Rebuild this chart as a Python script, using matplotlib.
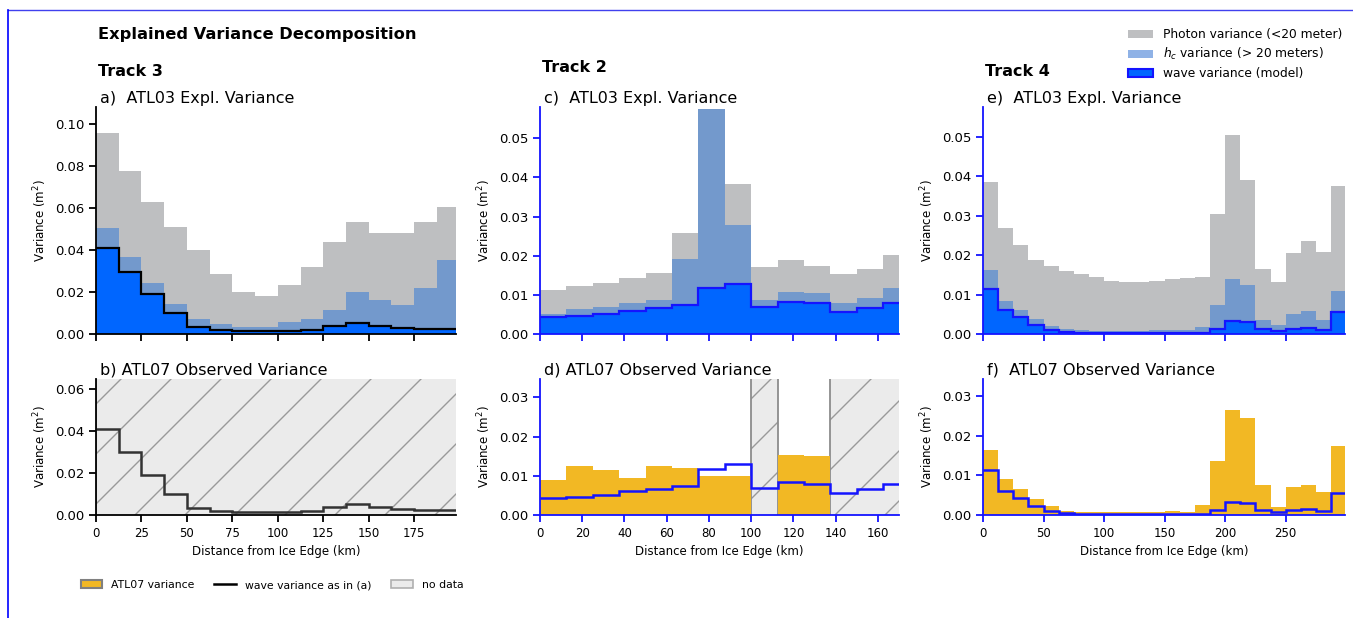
import numpy as np
import matplotlib
matplotlib.use("Agg")
import matplotlib.pyplot as plt
from matplotlib import backend_bases
from matplotlib.patches import Patch
from matplotlib.lines import Line2D

# sparser hatching, like the reference
_hatch_path = backend_bases.GraphicsContextBase.get_hatch_path
backend_bases.GraphicsContextBase.get_hatch_path = lambda self, density=4.5: _hatch_path(self, density)

bin_km = 12.5
nan = np.nan

# Track 3
photon_t3 = [0.0957, 0.0777, 0.0629, 0.0510, 0.0401, 0.0288, 0.0201, 0.0180,
             0.0232, 0.0320, 0.0441, 0.0532, 0.0484, 0.0481, 0.0532, 0.0608]
hc_t3 = [0.0508, 0.0368, 0.0242, 0.0145, 0.0073, 0.0046, 0.0032, 0.0032,
         0.0059, 0.0072, 0.0115, 0.0202, 0.0164, 0.0137, 0.0218, 0.0355]
wave_t3 = [0.0411, 0.0298, 0.0191, 0.0099, 0.0032, 0.0018, 0.0014, 0.0014,
           0.0016, 0.0021, 0.0040, 0.0053, 0.0038, 0.0027, 0.0024, 0.0022]
atl07_t3 = [nan] * 16

# Track 2
photon_t2 = [0.0112, 0.0122, 0.0131, 0.0142, 0.0155, 0.0257, 0.0575,
             0.0383, 0.0170, 0.0188, 0.0175, 0.0154, 0.0167, 0.0201]
hc_t2 = [0.0052, 0.0063, 0.0070, 0.0078, 0.0087, 0.0191, 0.0575,
         0.0278, 0.0088, 0.0108, 0.0106, 0.0080, 0.0091, 0.0117]
wave_t2 = [0.0043, 0.0047, 0.0052, 0.0060, 0.0067, 0.0074, 0.0118,
           0.0129, 0.0070, 0.0083, 0.0078, 0.0057, 0.0067, 0.0078]
atl07_t2 = [0.0089, 0.0126, 0.0116, 0.0095, 0.0125, 0.0119, 0.0099,
            0.0099, nan, 0.0152, 0.0150, nan, nan, nan]

# Track 4
photon_t4 = [0.0384, 0.0268, 0.0225, 0.0188, 0.0172, 0.0160, 0.0153, 0.0145,
             0.0135, 0.0132, 0.0132, 0.0134, 0.0140, 0.0142, 0.0144, 0.0303,
             0.0503, 0.0389, 0.0164, 0.0132, 0.0205, 0.0236, 0.0208, 0.0374]
hc_t4 = [0.0161, 0.0084, 0.0061, 0.0037, 0.0019, 0.0012, 0.0010, 0.0008,
         0.0008, 0.0008, 0.0008, 0.0010, 0.0010, 0.0010, 0.0017, 0.0074,
         0.0139, 0.0123, 0.0035, 0.0022, 0.0050, 0.0057, 0.0036, 0.0110]
wave_t4 = [0.0114, 0.0061, 0.0042, 0.0024, 0.0009, 0.0004, 0.0003, 0.0003,
           0.0003, 0.0003, 0.0003, 0.0003, 0.0003, 0.0003, 0.0003, 0.0012,
           0.0034, 0.0031, 0.0013, 0.0007, 0.0012, 0.0014, 0.0011, 0.0056]
atl07_t4 = [0.0164, 0.0092, 0.0065, 0.0041, 0.0022, 0.0011, 0.0008, 0.0008,
            0.0008, 0.0008, 0.0007, 0.0008, 0.0009, 0.0008, 0.0026, 0.0136,
            0.0266, 0.0245, 0.0076, 0.0019, 0.0070, 0.0075, 0.0057, 0.0175]

c_photon = '#bebfc1'
c_hc = '#7399cc'
c_hc_legend = '#8fb2e6'
c_wave = '#0066ff'
c_line = '#1414ff'
c_atl07 = '#f2b824'
c_nodata = '#ebebeb'
c_hatch = '#999999'

plt.rcParams['hatch.linewidth'] = 1.0

fig = plt.figure(figsize=(13.53, 6.18), dpi=100)


def style_axis(ax, color):
    for s in ['top', 'right']:
        ax.spines[s].set_visible(False)
    for s in ['left', 'bottom']:
        ax.spines[s].set_color(color)
        ax.spines[s].set_linewidth(1.3)
    ax.tick_params(axis='both', colors=color, length=5, width=1.3, labelcolor='black')
    ax.tick_params(axis='y', labelsize=9.5)
    ax.tick_params(axis='x', labelsize=8.5)
    ax.set_ylabel('Variance (m$^2$)', fontsize=8.5)


def top_panel(ax, photon, hc, wave, line_c, spine_c, title, xmax, ymax, yticks):
    edges = np.arange(len(wave) + 1) * bin_km
    ax.bar(edges[:-1], photon, width=bin_km, align='edge', color=c_photon, lw=0)
    ax.bar(edges[:-1], hc, width=bin_km, align='edge', color=c_hc, lw=0)
    ax.bar(edges[:-1], wave, width=bin_km, align='edge', color=c_wave, lw=0)
    ax.stairs(wave, edges, baseline=None, color=line_c, lw=1.6)
    ax.set_xlim(0, xmax)
    ax.set_ylim(0, ymax)
    ax.set_yticks(yticks)
    ax.set_xticklabels([])
    style_axis(ax, spine_c)
    ax.set_title(title, loc='left', fontsize=11.5, pad=3, x=0.01)


def bottom_panel(ax, atl07, wave, line_c, spine_c, title, xmax, ymax, yticks, xticks):
    edges = np.arange(len(wave) + 1) * bin_km
    atl07 = np.array(atl07)
    missing = np.isnan(atl07)
    # contiguous runs of missing ATL07 bins
    i = 0
    while i < len(atl07):
        if missing[i]:
            j = i
            while j < len(atl07) and missing[j]:
                j += 1
            ax.axvspan(edges[i], edges[j], facecolor=c_nodata, edgecolor=c_hatch,
                       hatch='/', lw=0, zorder=0)
            for e in (edges[i], edges[j]):
                ax.axvline(e, color='#8c8c8c', lw=1.3, zorder=0.5)
            i = j
        else:
            i += 1
    ax.bar(edges[:-1], np.nan_to_num(atl07), width=bin_km, align='edge',
           color=c_atl07, lw=0, zorder=1)
    ax.stairs(wave, edges, baseline=None, color=line_c, lw=1.8, zorder=2)
    ax.set_xlim(0, xmax)
    ax.set_ylim(0, ymax)
    ax.set_yticks(yticks)
    ax.set_xticks(xticks)
    style_axis(ax, spine_c)
    ax.set_xlabel('Distance from Ice Edge (km)', fontsize=8.5)
    ax.set_title(title, loc='left', fontsize=11.5, pad=3, x=0.01)


W, H = 1353, 618
top_y, top_h = 1 - 334 / H, (334 - 107) / H
bot_y, bot_h = 1 - 515 / H, (515 - 379) / H
cols = [(96 / W, 360 / W), (540 / W, 359 / W), (983 / W, 362 / W)]

ax_a = fig.add_axes([cols[0][0], top_y, cols[0][1], top_h])
ax_b = fig.add_axes([cols[0][0], bot_y, cols[0][1], bot_h])
ax_c = fig.add_axes([cols[1][0], top_y, cols[1][1], top_h])
ax_d = fig.add_axes([cols[1][0], bot_y, cols[1][1], bot_h])
ax_e = fig.add_axes([cols[2][0], top_y, cols[2][1], top_h])
ax_f = fig.add_axes([cols[2][0], bot_y, cols[2][1], bot_h])

top_panel(ax_a, photon_t3, hc_t3, wave_t3, 'black', 'black',
          'a)  ATL03 Expl. Variance', 198, 0.1083, np.arange(0, 0.11, 0.02))
bottom_panel(ax_b, atl07_t3, wave_t3, '#333333', 'black',
             'b) ATL07 Observed Variance', 198, 0.0648,
             np.arange(0, 0.07, 0.02), np.arange(0, 200, 25))

top_panel(ax_c, photon_t2, hc_t2, wave_t2, c_line, c_line,
          'c)  ATL03 Expl. Variance', 170, 0.058, np.arange(0, 0.051, 0.01))
bottom_panel(ax_d, atl07_t2, wave_t2, c_line, c_line,
             'd) ATL07 Observed Variance', 170, 0.0347,
             np.arange(0, 0.031, 0.01), np.arange(0, 170, 20))

top_panel(ax_e, photon_t4, hc_t4, wave_t4, c_line, c_line,
          'e)  ATL03 Expl. Variance', 299, 0.0575, np.arange(0, 0.051, 0.01))
bottom_panel(ax_f, atl07_t4, wave_t4, c_line, c_line,
             'f)  ATL07 Observed Variance', 299, 0.0344,
             np.arange(0, 0.031, 0.01), np.arange(0, 300, 50))

fig.text(98 / W, 1 - 35 / H, 'Explained Variance Decomposition',
         fontsize=11.7, fontweight='bold', va='center')
fig.text(98 / W, 1 - 72 / H, 'Track 3', fontsize=11.5, fontweight='bold', va='center')
fig.text(542 / W, 1 - 68 / H, 'Track 2', fontsize=11.5, fontweight='bold', va='center')
fig.text(985 / W, 1 - 72 / H, 'Track 4', fontsize=11.5, fontweight='bold', va='center')

top_handles = [Patch(facecolor=c_photon, edgecolor='none', label='Photon variance (<20 meter)'),
               Patch(facecolor=c_hc_legend, edgecolor='none', label='$h_c$ variance (> 20 meters)'),
               Patch(facecolor=c_wave, edgecolor=c_line, lw=1.5, label='wave variance (model)')]
fig.legend(handles=top_handles, loc='upper right', bbox_to_anchor=(1.0, 0.972),
           frameon=False, fontsize=8.8, handlelength=2.0, labelspacing=0.4)

bot_handles = [Patch(facecolor=c_atl07, edgecolor='#808080', lw=1.5, label='ATL07 variance'),
               Line2D([], [], color='black', lw=1.8, label='wave variance as in (a)'),
               Patch(facecolor=c_nodata, edgecolor='#b0b0b0', hatch='/', lw=1.2, label='no data')]
fig.legend(handles=bot_handles, loc='center', bbox_to_anchor=(272 / W, 1 - 585 / H),
           ncol=3, frameon=False, fontsize=7.8, handlelength=2.0, columnspacing=1.85)

# blue frame edges seen in the reference
fig.add_artist(Line2D([7.5 / W, 1], [1 - 9.5 / H, 1 - 9.5 / H], color='#4040ee', lw=1.0))
fig.add_artist(Line2D([7.5 / W, 7.5 / W], [0, 1 - 9.5 / H], color='blue', lw=1.2))

fig.savefig('out.png', dpi=100)
